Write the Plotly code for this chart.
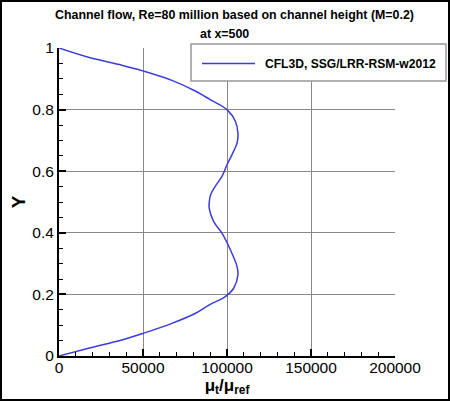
import plotly.graph_objects as go

# Data (mu_t/mu_ref vs Y)
y_vals = [0.0, 0.025, 0.052, 0.074, 0.106, 0.138, 0.166, 0.193, 0.220, 0.263,
          0.290, 0.345, 0.399, 0.437, 0.480, 0.502, 0.524, 0.551, 0.583, 0.621,
          0.654, 0.692, 0.724, 0.762, 0.800, 0.8325, 0.862, 0.895, 0.925, 0.944,
          0.970, 1.0]
mut_vals = [0, 17500, 37400, 50300, 67200, 81000, 89500, 99000, 104000, 106500,
            106000, 102000, 97000, 92000, 89400, 89500, 90300, 93000, 97000, 100000,
            103000, 106000, 106500, 105000, 100000, 90000, 80500, 67200, 50300, 37400,
            17500, 0]
series_name = "CFL3D, SSG/LRR-RSM-w2012"
title_line1 = "Channel flow, Re=80 million based on channel height (M=0.2)"
title_line2 = "at x=500"

FONT = "Liberation Sans, Arial, Helvetica, sans-serif"
LINE_COLOR = "#3c3cdc"
W, H = 450, 401
ML, MR, MT, MB = 59, 55, 48, 45
PW, PH = W - ML - MR, H - MT - MB

def px2x(px):
    return (px - ML) / PW

def py2y(py):
    return (H - MB - py) / PH

fig = go.Figure()
fig.add_trace(go.Scatter(
    x=mut_vals, y=y_vals, mode="lines", name=series_name,
    line=dict(color=LINE_COLOR, width=1.5, shape="spline", smoothing=1.0),
    showlegend=False,
))

axis_common = dict(
    showline=True, linecolor="black", linewidth=2,
    ticks="inside", ticklen=7, tickwidth=1.5, tickcolor="black",
    showgrid=True, gridcolor="#888888", gridwidth=1,
    zeroline=False, mirror=False, automargin=False,
    tickfont=dict(family=FONT, size=15.5, color="black"),
)

fig.update_xaxes(
    range=[0, 200000], dtick=50000, tick0=0, tickformat="d",
    ticklabelstandoff=-4,
    minor=dict(dtick=10000, ticks="inside", ticklen=4, tickcolor="black", tickwidth=1, showgrid=False),
    title=dict(text="<b>μ<sub>t</sub>/μ<sub>ref</sub></b>", font=dict(family=FONT, size=17, color="black"), standoff=0),
    **axis_common,
)
fig.update_yaxes(
    range=[0, 1], dtick=0.2, tick0=0,
    minor=dict(dtick=0.05, ticks="inside", ticklen=4, tickcolor="black", tickwidth=1, showgrid=False),
    title=dict(text="<b>Y</b>", font=dict(family=FONT, size=19, color="black"), standoff=2),
    **axis_common,
)

# Legend box drawn to match the reference's proportions
LEG_X0, LEG_X1, LEG_Y0, LEG_Y1 = 191, 446, 44, 81
LEG_MID = (LEG_Y0 + LEG_Y1) / 2

fig.update_layout(
    width=W, height=H,
    margin=dict(l=ML, r=MR, t=MT, b=MB, pad=0),
    paper_bgcolor="white", plot_bgcolor="white",
    font=dict(family=FONT, color="black"),
    showlegend=False,
    annotations=[
        dict(text="<b>" + title_line1 + "</b>", x=px2x(234), y=py2y(15.5), xref="paper", yref="paper",
             showarrow=False, xanchor="center", yanchor="middle", font=dict(family=FONT, size=12.4, color="black")),
        dict(text="<b>" + title_line2 + "</b>", x=px2x(224), y=py2y(34), xref="paper", yref="paper",
             showarrow=False, xanchor="center", yanchor="middle", font=dict(family=FONT, size=12.4, color="black")),
        dict(text="<b>" + series_name + "</b>", x=px2x(263), y=py2y(LEG_MID + 1), xref="paper", yref="paper",
             showarrow=False, xanchor="left", yanchor="middle", font=dict(family=FONT, size=12.1, color="black")),
    ],
    shapes=[
        dict(type="rect", xref="paper", yref="paper",
             x0=px2x(LEG_X0), x1=px2x(LEG_X1), y0=py2y(LEG_Y1), y1=py2y(LEG_Y0),
             line=dict(color="#999999", width=1.5), fillcolor="white", layer="above"),
        dict(type="line", xref="paper", yref="paper",
             x0=px2x(202), x1=px2x(255), y0=py2y(LEG_MID + 1), y1=py2y(LEG_MID + 1),
             line=dict(color=LINE_COLOR, width=1.5), layer="above"),
        dict(type="rect", xref="paper", yref="paper",
             x0=px2x(1), x1=px2x(449), y0=py2y(400), y1=py2y(1),
             line=dict(color="black", width=2), fillcolor="rgba(0,0,0,0)", layer="above"),
    ],
)

fig.write_html("out.html", config={"displayModeBar": False},
               post_script="document.body.style.margin='0px';")
